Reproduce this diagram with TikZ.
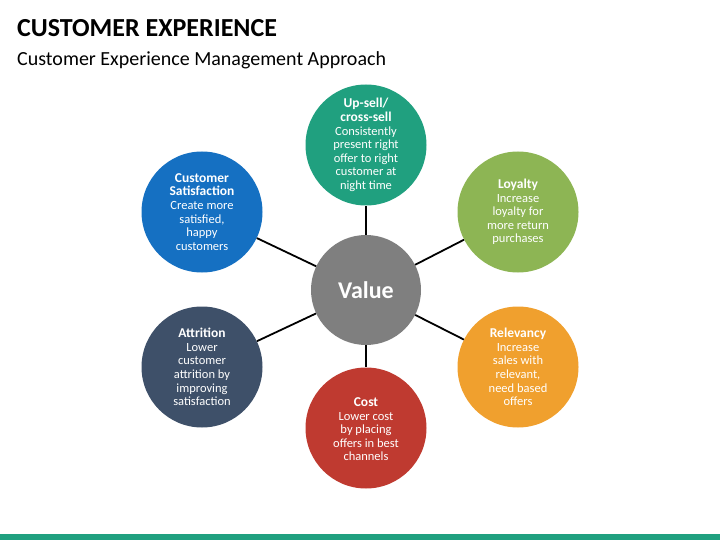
\documentclass[tikz,border=0pt]{standalone}
\usepackage{fontspec}
\setmainfont{Carlito}
\definecolor{upsellteal}{HTML}{20A07F}
\definecolor{satblue}{HTML}{1570C2}
\definecolor{loyalgreen}{HTML}{8DB554}
\definecolor{attrslate}{HTML}{3E5069}
\definecolor{relorange}{HTML}{F0A02E}
\definecolor{costred}{HTML}{BF3A30}
\definecolor{valuegray}{HTML}{7F7F7F}
\newcommand{\bubblehead}[1]{{\bfseries\fontsize{13.5}{14}\selectfont #1}}
\begin{document}
\begin{tikzpicture}[x=1pt, y=-1pt,
    bubble/.style={circle, minimum size=121pt, inner sep=0pt, text=white,
      align=center, font=\fontsize{12.5}{13.6}\selectfont},
    link/.style={line width=1.8pt, black}]
  \useasboundingbox (0,0) rectangle (720,540);

  % Heading
  \node[anchor=base west, inner sep=0pt, font=\bfseries\fontsize{26}{30}\selectfont] (title) at (17,37) {CUSTOMER EXPERIENCE};
  \node[anchor=base west, inner sep=0pt, font=\fontsize{20}{24}\selectfont] (subtitle) at (17,66) {Customer Experience Management Approach};

  % Centre
  \node[bubble, fill=valuegray, minimum size=110pt, font=\bfseries\fontsize{24}{28}\selectfont] (value) at (366,290) {Value};

  % Outer circles
  \node[bubble, fill=upsellteal] (upsell) at (366,145)
    {\bubblehead{Up-sell/}\\\bubblehead{cross-sell}\\Consistently\\present right\\offer to right\\customer at\\night time};
  \node[bubble, fill=satblue] (satisfaction) at (202,212)
    {\bubblehead{Customer}\\\bubblehead{Satisfaction}\\Create more\\satisfied,\\happy\\customers};
  \node[bubble, fill=loyalgreen] (loyalty) at (518,212)
    {\bubblehead{Loyalty}\\Increase\\loyalty for\\more return\\purchases};
  \node[bubble, fill=attrslate] (attrition) at (202,367)
    {\bubblehead{Attrition}\\Lower\\customer\\attrition by\\improving\\satisfaction};
  \node[bubble, fill=relorange] (relevancy) at (518,367)
    {\bubblehead{Relevancy}\\Increase\\sales with\\relevant,\\need based\\offers};
  \node[bubble, fill=costred] (cost) at (366,428)
    {\\[-2pt]\bubblehead{Cost}\\Lower cost\\by placing\\offers in best\\channels};

  % Spokes
  \foreach \n in {upsell,satisfaction,loyalty,attrition,relevancy,cost}
    \draw[link] (value) -- (\n);

  % Footer bar
  \fill[upsellteal] (0,534) rectangle (720,540);
\end{tikzpicture}
\end{document}
